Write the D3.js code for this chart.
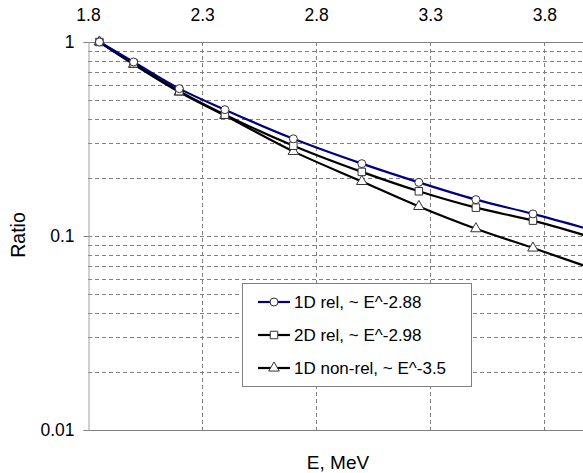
<!DOCTYPE html>
<html>
<head>
<meta charset="utf-8">
<script src="https://cdn.jsdelivr.net/npm/d3@7"></script>
<style>
  body { margin: 0; background: #fff; }
  svg { display: block; font-family: "Liberation Sans", Arial, sans-serif; }
</style>
</head>
<body>
<div id="app"></div>
<script>
// data
let energy = [1.85, 2.0, 2.2, 2.4, 2.7, 3.0, 3.25, 3.5, 3.75, 4.0]
let rel1D = [1.0, 0.789, 0.575, 0.448, 0.317, 0.236, 0.189, 0.154, 0.130, 0.108]
let rel2D = [1.0, 0.775, 0.558, 0.422, 0.292, 0.214, 0.170, 0.140, 0.120, 0.099]
let nonrel1D = [1.0, 0.767, 0.552, 0.418, 0.273, 0.191, 0.142, 0.109, 0.0867, 0.0687]
let seriesNames = ["1D rel, ~ E^-2.88", "2D rel, ~ E^-2.98", "1D non-rel, ~ E^-3.5"]
let xTicks = [1.8, 2.3, 2.8, 3.3, 3.8]
let yTicks = [1, 0.1, 0.01]

let width = 583, height = 473
let margin = {top: 42, right: 0, bottom: 43, left: 88}

let svg = d3.select("#app").append("svg")
    .attr("width", width)
    .attr("height", height)

let x = d3.scaleLinear().domain([1.8, 4.0]).range([margin.left, 590])
let y = d3.scaleLog().domain([0.01, 1]).range([height - margin.bottom, margin.top])

let grey = "#808080"

svg.append("clipPath").attr("id", "plotclip")
  .append("rect")
    .attr("x", margin.left).attr("y", margin.top - 8)
    .attr("width", width - margin.left).attr("height", y(0.01) - margin.top + 16)

// horizontal grid (every minor value of the log axis)
let gridVals = []
for (let d of [0.01, 0.1]) for (let k = 2; k <= 9; k++) gridVals.push(d * k)
gridVals.push(0.1)
svg.append("g").selectAll("line")
  .data(gridVals)
  .join("line")
    .attr("x1", margin.left).attr("x2", width)
    .attr("y1", d => Math.round(y(d)) + 0.5).attr("y2", d => Math.round(y(d)) + 0.5)
    .attr("stroke", grey).attr("stroke-dasharray", "4,3")

// vertical grid
svg.append("g").selectAll("line")
  .data(xTicks.slice(1))
  .join("line")
    .attr("x1", d => Math.round(x(d)) + 0.5).attr("x2", d => Math.round(x(d)) + 0.5)
    .attr("y1", y(1)).attr("y2", y(0.01))
    .attr("stroke", grey).attr("stroke-dasharray", "4,3")

// frame lines
svg.append("line").attr("x1", margin.left).attr("x2", width)
    .attr("y1", y(1) + 0.5).attr("y2", y(1) + 0.5).attr("stroke", grey)
svg.append("line").attr("x1", margin.left).attr("x2", width)
    .attr("y1", y(0.01) + 0.5).attr("y2", y(0.01) + 0.5).attr("stroke", grey)

// left axis
let yAxis = svg.append("g")
    .attr("transform", "translate(" + (margin.left + 0.5) + ",0)")
    .call(d3.axisLeft(y).tickValues(yTicks).tickFormat(d3.format("~g")).tickSize(5).tickPadding(9))
yAxis.select(".domain").attr("stroke", "#a0a0a0")
yAxis.selectAll(".tick line").attr("stroke", grey)
yAxis.selectAll("text").attr("font-size", 17.5).attr("fill", "#000")
    .attr("font-family", "Liberation Sans, Arial, sans-serif")

// top axis labels
let xAxis = svg.append("g")
    .attr("transform", "translate(0," + margin.top + ")")
    .call(d3.axisTop(x).tickValues(xTicks).tickFormat(d3.format(".1f")).tickSize(0).tickPadding(21))
xAxis.select(".domain").remove()
xAxis.selectAll("text").attr("font-size", 17.5).attr("fill", "#000")
    .attr("font-family", "Liberation Sans, Arial, sans-serif")

// axis titles
svg.append("text")
    .attr("x", 338).attr("y", 469)
    .attr("text-anchor", "middle").attr("font-size", 19)
    .text("E, MeV")
svg.append("text")
    .attr("transform", "translate(25,235) rotate(-90)")
    .attr("text-anchor", "middle").attr("font-size", 19.5)
    .text("Ratio")

// series
let series = [
  {name: seriesNames[0], values: rel1D, color: "#000080", marker: "circle"},
  {name: seriesNames[1], values: rel2D, color: "#000000", marker: "square"},
  {name: seriesNames[2], values: nonrel1D, color: "#000000", marker: "triangle"}
]
let symbols = {circle: d3.symbolCircle, square: d3.symbolSquare, triangle: d3.symbolTriangle}
let sizes = {circle: 50, square: 56, triangle: 48}

let line = d3.line()
    .x((d, i) => x(energy[i]))
    .y(d => y(d))
    .curve(d3.curveMonotoneX)

let plot = svg.append("g").attr("clip-path", "url(#plotclip)")

let groups = plot.selectAll(".series")
  .data(series.slice().reverse())
  .join("g")
    .attr("class", "series")

groups.append("path")
    .attr("d", d => line(d.values))
    .attr("fill", "none")
    .attr("stroke", d => d.color)
    .attr("stroke-width", 2.2)

groups.each(function(s) {
  d3.select(this).selectAll("path.mark")
    .data(s.values.slice(0, energy.length - 1))
    .join("path")
      .attr("class", "mark")
      .attr("transform", (d, i) => "translate(" + x(energy[i]) + "," + y(d) + ")")
      .attr("d", d3.symbol().type(symbols[s.marker]).size(sizes[s.marker]))
      .attr("fill", "#fff")
      .attr("stroke", "#333")
      .attr("stroke-width", 1)
})

// legend
let legend = svg.append("g")
legend.append("rect")
    .attr("x", 242.5).attr("y", 283.5)
    .attr("width", 229).attr("height", 103)
    .attr("fill", "#fff").attr("stroke", grey)

let rows = legend.selectAll(".row")
  .data(series)
  .join("g")
    .attr("class", "row")
    .attr("transform", (d, i) => "translate(0," + (302 + i * 33) + ")")

rows.append("line")
    .attr("x1", 258).attr("x2", 290)
    .attr("stroke", d => d.color).attr("stroke-width", 2.2)
rows.append("path")
    .attr("transform", "translate(274,0)")
    .attr("d", d => d3.symbol().type(symbols[d.marker]).size(sizes[d.marker])())
    .attr("fill", "#fff").attr("stroke", "#333")
rows.append("text")
    .attr("x", 294).attr("y", 6)
    .attr("font-size", 17)
    .text(d => d.name)
</script>
</body>
</html>
